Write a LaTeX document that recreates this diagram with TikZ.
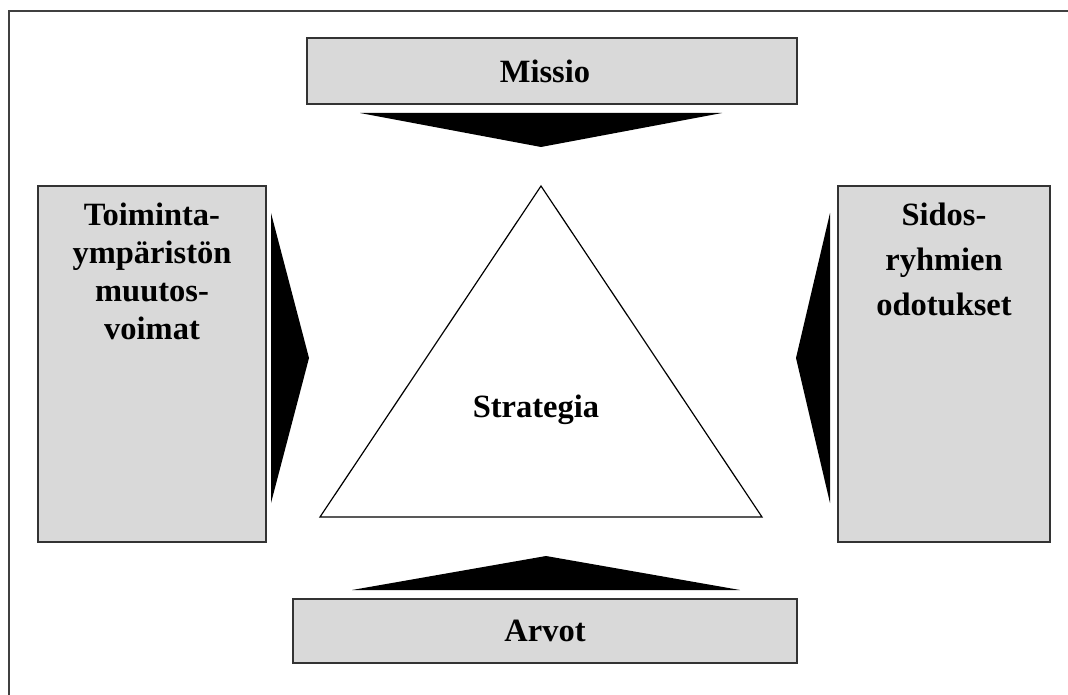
\documentclass[tikz,border=0pt]{standalone}
\usepackage{fontspec}
\setmainfont{Liberation Serif}
\begin{document}
\begin{tikzpicture}[x=1pt,y=-1pt,
  panel/.style={draw=black!80,line width=1.6pt,fill=black!15,inner sep=0pt},
  label/.style={font=\fontsize{32.5}{38}\selectfont\bfseries,align=center,inner sep=0pt},
  wedge/.style={fill=black,draw=none}]
  \useasboundingbox (0,0) rectangle (1068,695);
  % outer frame (only top and left edges fall inside the page)
  \draw[black!75,line width=1.8pt] (9,700) -- (9,11) -- (1075,11);

  % boxes
  \node[panel,minimum width=490pt,minimum height=66pt] (missio) at (552,71) {};
  \node[label] (missiotext) at ([xshift=-7pt]missio.center) {Missio};
  \node[panel,minimum width=504pt,minimum height=64pt] (arvot) at (545,631) {};
  \node[label] (arvottext) at (arvot.center) {Arvot};
  \node[panel,minimum width=228pt,minimum height=356pt] (env) at (152,364) {};
  \node[label,anchor=north] (envtext) at (152,203) {Toiminta-\\ympäristön\\muutos-\\voimat};
  \node[panel,minimum width=212pt,minimum height=356pt] (stake) at (944,364) {};
  \node[label,anchor=north,font=\fontsize{32.5}{45}\selectfont\bfseries] (staketext) at (944,203) {Sidos-\\ryhmien\\odotukset};

  % central triangle
  \coordinate (apex) at (541,186);
  \coordinate (bl) at (320,517);
  \coordinate (br) at (762,517);
  \draw[line width=1.2pt] (apex) -- (bl) -- (br) -- cycle;
  \node[label] (strat) at (536,410) {Strategia};

  % wedge arrows pointing at the strategy
  \fill[wedge] (360,113) -- (722,113) -- (541,147) -- cycle;
  \fill[wedge] (352,590) -- (740,590) -- (546,556) -- cycle;
  \fill[wedge] (271,213) -- (271,503) -- (309,358) -- cycle;
  \fill[wedge] (830,213) -- (830,503) -- (796,358) -- cycle;
\end{tikzpicture}
\end{document}
